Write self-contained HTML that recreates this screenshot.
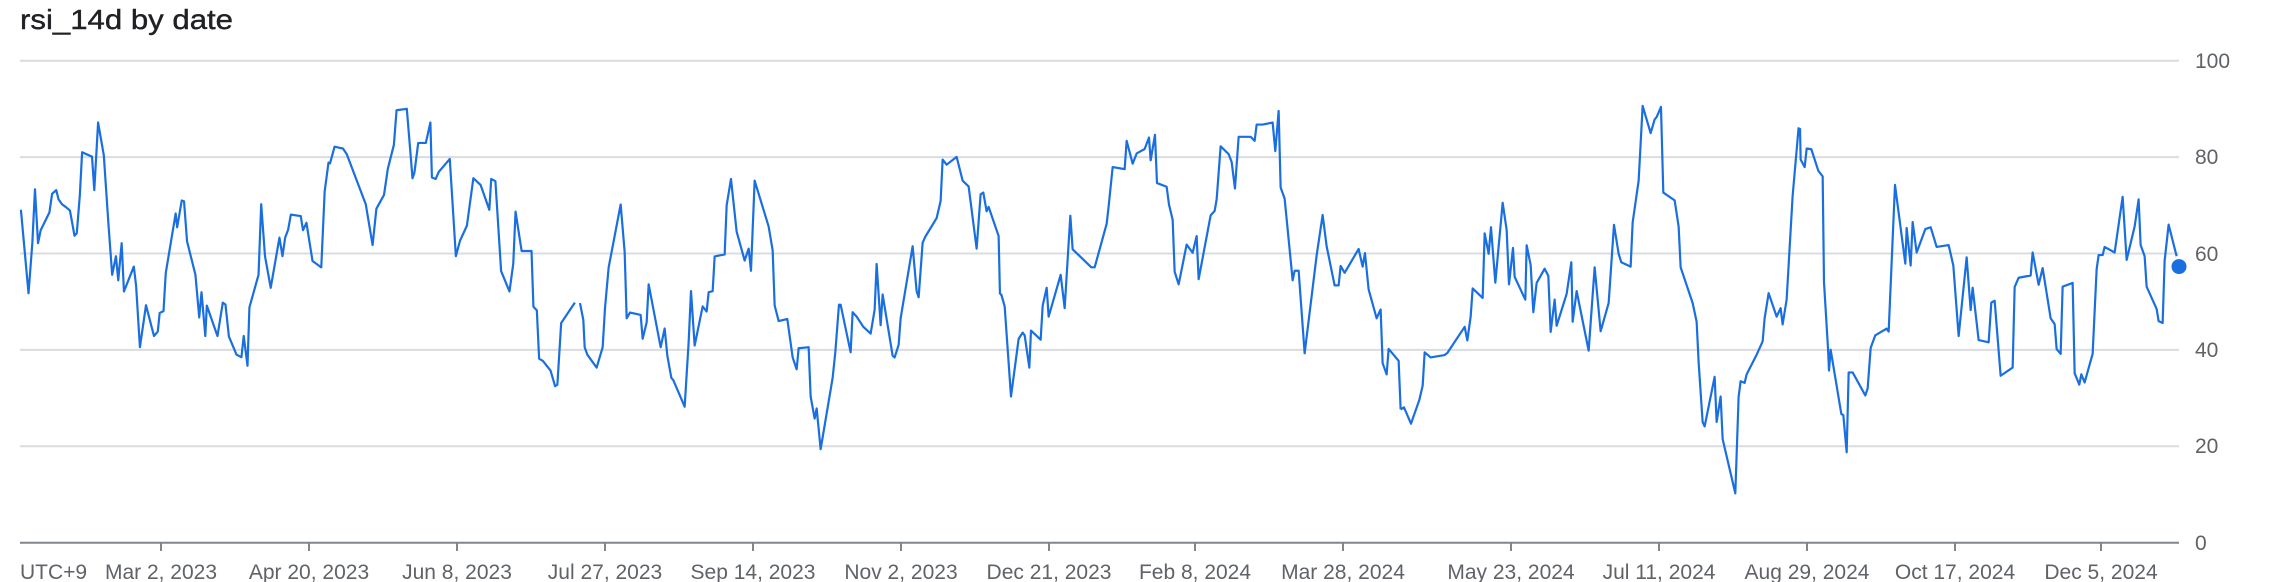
<!DOCTYPE html>
<html><head><meta charset="utf-8"><style>
html,body{margin:0;padding:0;background:#fff;}
svg{display:block;}
text{font-family:"Liberation Sans",sans-serif;}
</style></head><body>
<svg width="2278" height="582" viewBox="0 0 2278 582" xmlns="http://www.w3.org/2000/svg">
<text x="20" y="29" font-size="28" fill="#202124" stroke="#202124" stroke-width="0.4" textLength="213" lengthAdjust="spacingAndGlyphs">rsi_14d by date</text>
<g stroke="#dadce0" stroke-width="2">
<line x1="20" x2="2179" y1="60.7" y2="60.7"/>
<line x1="20" x2="2179" y1="157.1" y2="157.1"/>
<line x1="20" x2="2179" y1="253.5" y2="253.5"/>
<line x1="20" x2="2179" y1="349.9" y2="349.9"/>
<line x1="20" x2="2179" y1="446.3" y2="446.3"/>
</g>
<g fill="#5f6368" font-size="21">
<text x="2195" y="68">100</text>
<text x="2195" y="164">80</text>
<text x="2195" y="261">60</text>
<text x="2195" y="357">40</text>
<text x="2195" y="453">20</text>
<text x="2195" y="550">0</text>
</g>
<line x1="20" x2="2179" y1="542.7" y2="542.7" stroke="#80868b" stroke-width="2"/>
<g stroke="#80868b" stroke-width="2">
<line x1="161" x2="161" y1="542" y2="551"/><line x1="309" x2="309" y1="542" y2="551"/>
<line x1="457" x2="457" y1="542" y2="551"/><line x1="605" x2="605" y1="542" y2="551"/>
<line x1="753" x2="753" y1="542" y2="551"/><line x1="901" x2="901" y1="542" y2="551"/>
<line x1="1049" x2="1049" y1="542" y2="551"/><line x1="1195" x2="1195" y1="542" y2="551"/>
<line x1="1343" x2="1343" y1="542" y2="551"/><line x1="1511" x2="1511" y1="542" y2="551"/>
<line x1="1659" x2="1659" y1="542" y2="551"/><line x1="1807" x2="1807" y1="542" y2="551"/>
<line x1="1955" x2="1955" y1="542" y2="551"/><line x1="2101" x2="2101" y1="542" y2="551"/>
</g>
<text x="20" y="579" fill="#5f6368" font-size="21">UTC+9</text>
<g fill="#5f6368" font-size="21" text-anchor="middle">
<text x="161" y="579">Mar 2, 2023</text>
<text x="309" y="579">Apr 20, 2023</text>
<text x="457" y="579">Jun 8, 2023</text>
<text x="605" y="579">Jul 27, 2023</text>
<text x="753" y="579">Sep 14, 2023</text>
<text x="901" y="579">Nov 2, 2023</text>
<text x="1049" y="579">Dec 21, 2023</text>
<text x="1195" y="579">Feb 8, 2024</text>
<text x="1343" y="579">Mar 28, 2024</text>
<text x="1511" y="579">May 23, 2024</text>
<text x="1659" y="579">Jul 11, 2024</text>
<text x="1807" y="579">Aug 29, 2024</text>
<text x="1955" y="579">Oct 17, 2024</text>
<text x="2101" y="579">Dec 5, 2024</text>
</g>
<g fill="none" stroke="#1a6fe0" stroke-width="2.2" stroke-linejoin="round">
<polyline vector-effect="non-scaling-stroke" transform="matrix(0.3802,0,0,0.3713,0,0)" points="55,565 75,790 85,655 92,510 100,655 107,620 130,572 137,522 148,512 154,537 163,550 176,560 184,567 196,635 202,628 210,525 216,410 242,422 248,512 258,330 273,418 285,600 295,740 305,690 311,755 320,655 326,785 352,718 358,770 368,935 384,822 405,905 415,893 420,843 430,838 436,735 462,575 466,612 478,540 484,542 492,650 514,740 524,855 530,787 540,905 544,823 572,905 586,815 593,820 602,906 622,955 635,962 641,905 651,985 656,828 680,740 687,550 697,690 712,775 735,640 743,690 750,640 758,618 765,578 791,582 797,620 806,600 822,703 845,720 854,515 864,438 868,440 880,395 902,400 912,415 962,550 980,660 990,562 1010,525 1020,455 1036,390 1043,297 1070,293 1085,480 1090,465 1100,385 1120,385 1132,330 1136,478 1146,482 1154,463 1183,428 1199,690 1210,648 1228,608 1245,480 1264,498 1287,565 1292,482 1303,488 1318,730 1340,785 1350,710 1356,570 1372,676 1398,676 1403,826 1412,836 1418,966 1428,972 1448,998 1460,1040 1466,1036 1476,870 1512,815"/>
<polyline vector-effect="non-scaling-stroke" transform="matrix(0.3333,0,0,0.3399,580,49.8)" points="0,745 10,795 14,875 22,897 50,935 68,875 75,760 86,640 122,455 134,595 140,790 150,773 182,780 188,850 200,802 206,690 242,875 254,820 262,900 274,965 280,972 314,1050 326,860 333,710 344,870 368,755 380,770 386,713 398,710 404,608 434,602 440,458 453,380 470,535 494,620 506,585 513,650 524,385 566,520 578,590 584,752 596,798 622,792 638,905 650,940 656,878 686,875 692,1020 704,1085 710,1055 722,1175 758,965 766,890 777,750 782,750 812,890 818,772 830,785 850,815 872,835 884,765 890,630 902,810 908,720 938,900 944,905 956,868 962,790 998,578 1010,710 1016,728 1028,568 1036,550 1070,495 1082,445 1088,323 1100,338 1130,315 1148,385 1166,402 1190,585 1202,425 1210,420 1220,475 1226,462 1256,548 1260,720"/>
<polyline vector-effect="non-scaling-stroke" transform="matrix(0.3333,0,0,0.3399,1000,49.8)" points="0,720 4,720 14,755 33,1020 56,850 68,832 74,840 88,935 93,826 122,853 128,753 140,700 146,785 182,662 194,760 211,488 218,587 274,640 284,640 320,512 326,460 338,345 374,351 380,268 398,335 410,305 434,292 447,258 452,325 465,250 471,392 500,403 507,455 518,500 524,653 536,690 560,573 578,597 590,548 596,675 632,487 644,474 650,440 662,284 686,307 695,330 705,408 716,256 752,256 764,268 770,220 788,220 818,214 826,298 836,180 842,405 854,438 878,678 884,650 896,650 914,893 950,605 968,486 980,578 1004,693 1016,693 1022,636 1034,656 1076,586 1088,638 1095,598 1106,705 1130,790 1142,764 1148,922 1160,955 1166,880 1196,915 1202,1058"/>
<polyline vector-effect="non-scaling-stroke" transform="matrix(0.3333,0,0,0.3399,1400,49.8)" points="2,1058 12,1052 33,1100 58,1030 68,988 74,890 92,905 134,898 142,892 194,815 202,855 212,785 218,702 248,730 254,540 266,600 273,522 286,685 308,450 320,530 327,690 339,583 344,668 376,735 380,575 392,633 400,772 410,686 434,644 445,665 452,830 464,735 470,812 500,718 514,625 518,800 530,710 566,885 584,640 602,828 626,745 642,515 656,600 664,625 692,638 698,508 716,385 728,165 752,245 764,205 770,198 783,168 790,420 824,443 836,520 842,640 878,745 890,800 896,920 908,1095 914,1108 944,962 950,1095 962,1020 968,1145 1006,1305 1016,1020 1022,975 1034,980 1040,955 1070,897 1088,858 1094,790 1106,716 1130,785 1142,760 1148,808 1160,735 1178,430 1196,228"/>
<polyline vector-effect="non-scaling-stroke" transform="matrix(0.3333,0,0,0.3713,1800,0)" points="0,345 2,430 14,450 20,400 34,402 55,460 68,475 72,760 84,938 87,998 92,942 124,1115 130,1118 140,1218 146,1003 158,1003 196,1065 203,1046 212,937 226,903 260,885 266,893 285,498 316,710 320,614 332,715 338,598 350,680 376,617 392,612 410,665 446,660 460,715 476,905 500,693 512,835 518,775 536,916 566,922 574,815 584,810 602,1012 638,990 644,773 656,748 692,742 698,680 716,767 728,722 752,857 764,873 770,940 782,953 788,772 818,762 824,1005 838,1036 844,1008 854,1030 878,953 890,725 896,687 908,687 914,665 944,680 968,530 980,700 1004,610 1016,537 1022,660 1034,690 1040,772 1070,832 1076,865 1088,870 1094,702 1106,605 1130,690"/>
</g>
<circle cx="2179" cy="266.6" r="7.5" fill="#1a6fe0"/>
</svg>
</body></html>
